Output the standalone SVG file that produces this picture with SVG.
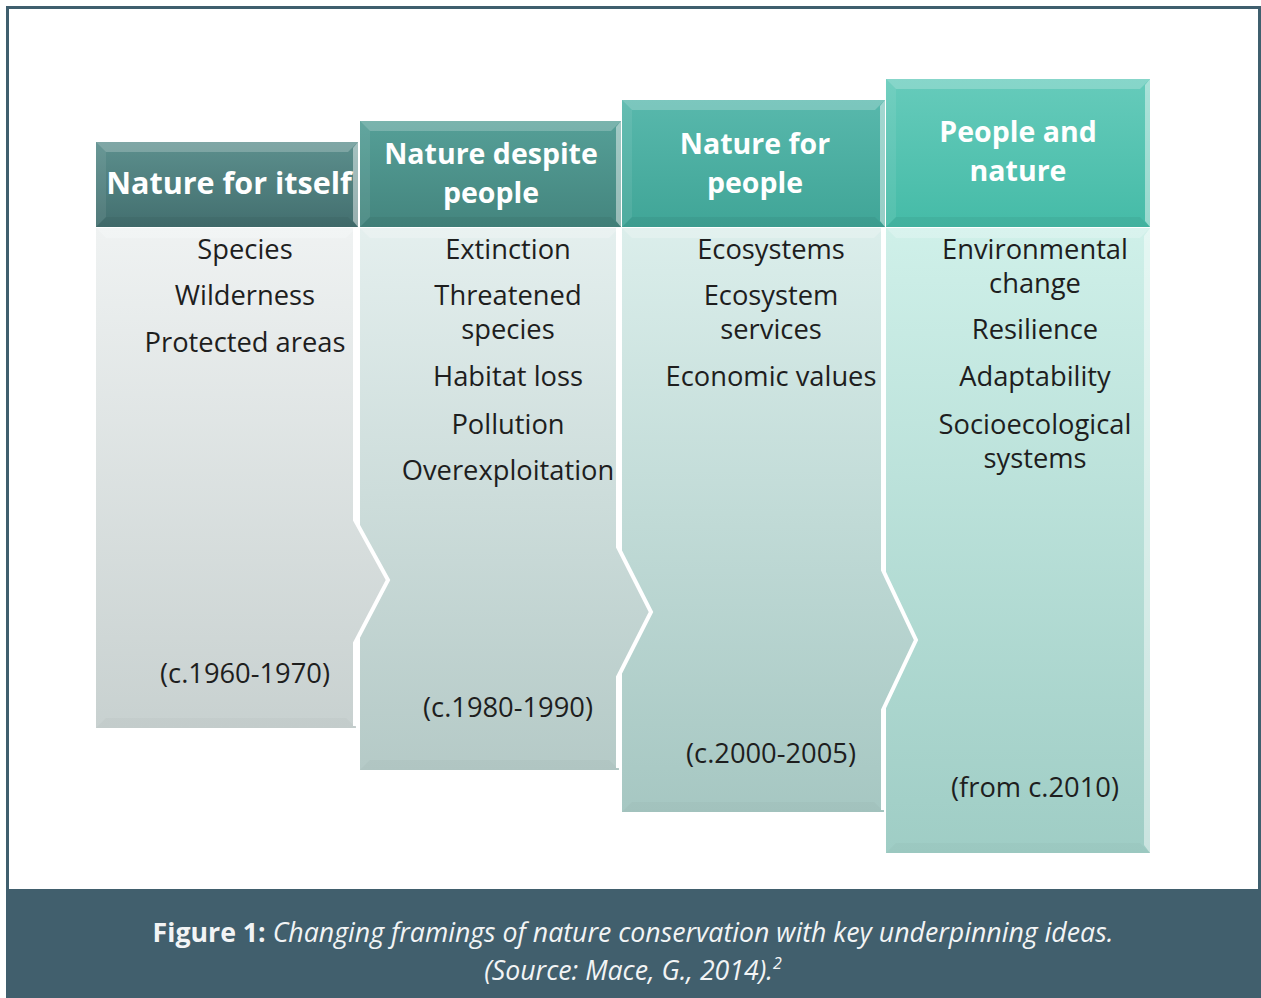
<svg xmlns="http://www.w3.org/2000/svg" width="1261" height="998" viewBox="0 0 1261 998">
<defs>
<linearGradient id="h1" x1="0" y1="0" x2="0" y2="1"><stop offset="0" stop-color="#5c8f8d"/><stop offset="1" stop-color="#436f6f"/></linearGradient>
<linearGradient id="h2" x1="0" y1="0" x2="0" y2="1"><stop offset="0" stop-color="#559f97"/><stop offset="1" stop-color="#44857e"/></linearGradient>
<linearGradient id="h3" x1="0" y1="0" x2="0" y2="1"><stop offset="0" stop-color="#58b8ac"/><stop offset="1" stop-color="#40a597"/></linearGradient>
<linearGradient id="h4" x1="0" y1="0" x2="0" y2="1"><stop offset="0" stop-color="#66cbbb"/><stop offset="1" stop-color="#45bba7"/></linearGradient>
<linearGradient id="b1" x1="0" y1="0" x2="0" y2="1"><stop offset="0" stop-color="#eff2f2"/><stop offset="1" stop-color="#c8d1d0"/></linearGradient>
<linearGradient id="b2" x1="0" y1="0" x2="0" y2="1"><stop offset="0" stop-color="#e4efee"/><stop offset="1" stop-color="#b5cac7"/></linearGradient>
<linearGradient id="b3" x1="0" y1="0" x2="0" y2="1"><stop offset="0" stop-color="#dbeeeb"/><stop offset="1" stop-color="#a6c7c2"/></linearGradient>
<linearGradient id="b4" x1="0" y1="0" x2="0" y2="1"><stop offset="0" stop-color="#cff0e9"/><stop offset="1" stop-color="#9fcdc5"/></linearGradient>
</defs>
<style>
.ht{font-family:"Open Sans","DejaVu Sans",sans-serif;font-weight:bold;font-size:30.5px;fill:#ffffff;text-anchor:middle}
.ht2{font-family:"Open Sans","DejaVu Sans",sans-serif;font-weight:bold;font-size:28.5px;fill:#ffffff;text-anchor:middle}
.bt{font-family:"Open Sans","DejaVu Sans",sans-serif;font-size:27.3px;fill:#1e1e1e;text-anchor:middle}
.bvT{fill:#ffffff;fill-opacity:0.22}
.bvL{fill:#ffffff;fill-opacity:0.08}
.bvR{fill:#ffffff;fill-opacity:0.45}
.bvB{fill:#000000;fill-opacity:0.05}
.bvBb{fill:#000000;fill-opacity:0.025}
.edge{fill:none;stroke:#ffffff;stroke-width:4;stroke-linejoin:miter}
.cap{font-family:"Open Sans","DejaVu Sans",sans-serif;font-size:26.7px;fill:#f2f4f5;text-anchor:middle}
</style>
<rect x="0" y="0" width="1261" height="998" fill="#ffffff"/>
<rect x="7.5" y="7.5" width="1252" height="990" fill="#ffffff" stroke="#3f5f6e" stroke-width="3"/>

<g id="col4">
<rect x="886" y="228" width="264" height="625" fill="url(#b4)"/>
<polygon class="bvT" points="886,228 1150,228 1140,238 896,238"/>
<polygon class="bvR" points="1150,228 1150,853 1144,845 1144,236"/>
<polygon class="bvBb" points="886,853 1150,853 1140,843 896,843"/>
<rect x="886" y="79" width="264" height="148" fill="url(#h4)"/>
<polygon class="bvT" points="886,79 1150,79 1140,89 896,89"/>
<polygon class="bvL" points="886,79 896,89 896,217 886,227"/>
<polygon class="bvR" points="1150,79 1150,227 1145,221 1145,85"/>
<polygon class="bvB" points="886,227 1150,227 1140,217 896,217"/>
<text class="ht2" x="1018" y="141.5">People and<tspan x="1018" dy="39.5">nature</tspan></text>
<text class="bt" x="1035" y="259">Environmental<tspan x="1035" dy="34">change</tspan></text>
<text class="bt" x="1035" y="339">Resilience</text>
<text class="bt" x="1035" y="386">Adaptability</text>
<text class="bt" x="1035" y="434">Socioecological<tspan x="1035" dy="34">systems</tspan></text>
<text class="bt" x="1035" y="797">(from c.2010)</text>
</g>

<g id="col3">
<polygon points="622,228 884,228 884,570 918,640 884,710 884,812 622,812" fill="url(#b3)"/>
<polygon class="bvT" points="622,228 884,228 874,238 632,238"/>
<polygon class="bvBb" points="622,812 884,812 874,802 632,802"/>
<polyline class="edge" points="883,228 883,570 916,640 883,710 883,810"/>
<rect x="622" y="100" width="263" height="127" fill="url(#h3)"/>
<polygon class="bvT" points="622,100 885,100 875,110 632,110"/>
<polygon class="bvL" points="622,100 632,110 632,217 622,227"/>
<polygon class="bvR" points="885,100 885,227 880,221 880,106"/>
<polygon class="bvB" points="622,227 885,227 875,217 632,217"/>
<text class="ht2" x="755" y="153.5">Nature for<tspan x="755" dy="39.5">people</tspan></text>
<text class="bt" x="771" y="259">Ecosystems</text>
<text class="bt" x="771" y="305">Ecosystem<tspan x="771" dy="34">services</tspan></text>
<text class="bt" x="771" y="386">Economic values</text>
<text class="bt" x="771" y="763">(c.2000-2005)</text>
</g>

<g id="col2">
<polygon points="360,228 619,228 619,547 653,612 619,677 619,770 360,770" fill="url(#b2)"/>
<polygon class="bvT" points="360,228 619,228 609,238 370,238"/>
<polygon class="bvBb" points="360,770 619,770 609,760 370,760"/>
<polyline class="edge" points="618,228 618,547 651,612 618,677 618,768"/>
<rect x="360" y="121" width="261" height="106" fill="url(#h2)"/>
<polygon class="bvT" points="360,121 621,121 611,131 370,131"/>
<polygon class="bvL" points="360,121 370,131 370,217 360,227"/>
<polygon class="bvR" points="621,121 621,227 616,221 616,127"/>
<polygon class="bvB" points="360,227 621,227 611,217 370,217"/>
<text class="ht2" x="491" y="163.5">Nature despite<tspan x="491" dy="39.5">people</tspan></text>
<text class="bt" x="508" y="259">Extinction</text>
<text class="bt" x="508" y="305">Threatened<tspan x="508" dy="34">species</tspan></text>
<text class="bt" x="508" y="386">Habitat loss</text>
<text class="bt" x="508" y="434">Pollution</text>
<text class="bt" x="508" y="480">Overexploitation</text>
<text class="bt" x="508" y="717">(c.1980-1990)</text>
</g>

<g id="col1">
<polygon points="96,228 356,228 356,520 390,580 356,643 356,728 96,728" fill="url(#b1)"/>
<polygon class="bvT" points="96,228 356,228 346,238 106,238"/>
<polygon class="bvBb" points="96,728 356,728 346,718 106,718"/>
<polyline class="edge" points="355,228 355,520 388,580 355,643 355,726"/>
<rect x="96" y="142" width="262" height="85" fill="url(#h1)"/>
<polygon class="bvT" points="96,142 358,142 348,152 106,152"/>
<polygon class="bvL" points="96,142 106,152 106,217 96,227"/>
<polygon class="bvR" points="358,142 358,227 353,221 353,148"/>
<polygon class="bvB" points="96,227 358,227 348,217 106,217"/>
<text class="ht" x="229" y="194">Nature for itself</text>
<text class="bt" x="245" y="259">Species</text>
<text class="bt" x="245" y="305">Wilderness</text>
<text class="bt" x="245" y="352">Protected areas</text>
<text class="bt" x="245" y="683">(c.1960-1970)</text>
</g>

<g id="caption">
<rect x="7" y="889" width="1254" height="109" fill="#415f6d"/>
<text class="cap" x="633" y="942"><tspan font-weight="bold">Figure 1:</tspan><tspan font-style="italic"> Changing framings of nature conservation with key underpinning ideas.</tspan></text>
<text class="cap" x="633" y="980" font-style="italic">(Source: Mace, G., 2014).<tspan font-size="16" dy="-11">2</tspan></text>
</g>
</svg>
